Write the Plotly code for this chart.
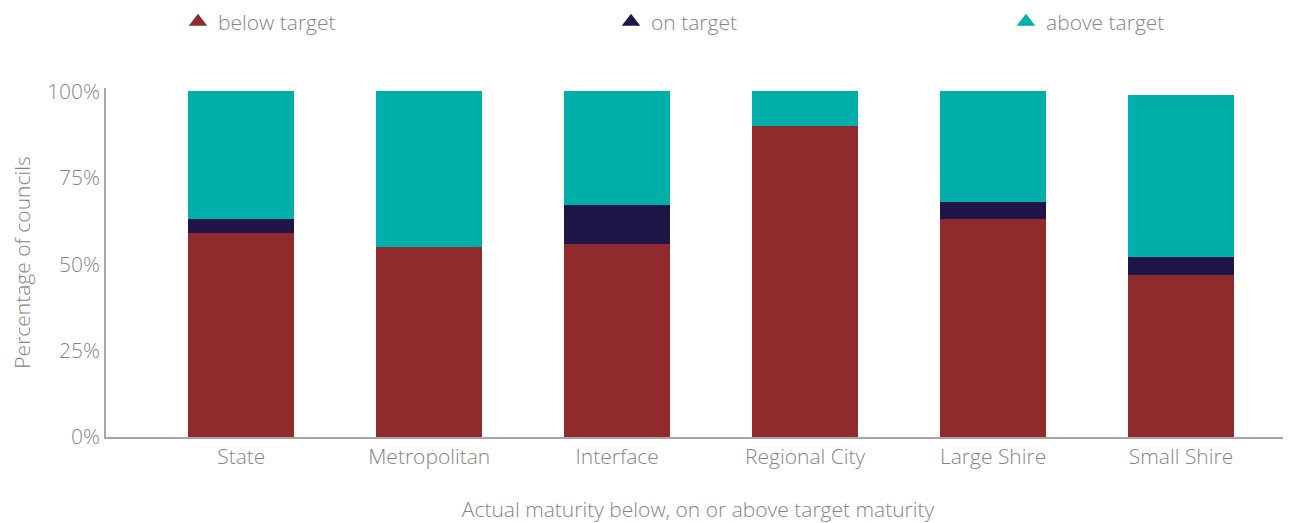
import plotly.graph_objects as go

categories = ["State", "Metropolitan", "Interface", "Regional City", "Large Shire", "Small Shire"]
below_target = [0.59, 0.55, 0.56, 0.90, 0.63, 0.47]
on_target = [0.04, 0.00, 0.11, 0.00, 0.05, 0.05]
above_target = [0.37, 0.45, 0.33, 0.10, 0.32, 0.47]

series_names = ["below target", "on target", "above target"]
series_values = [below_target, on_target, above_target]
colors = ["#8F2A2D", "#1F1546", "#00AFAA"]

FONT = "Open Sans"
GREY = "#858585"

fig = go.Figure()
for name, vals, col in zip(series_names, series_values, colors):
    fig.add_trace(go.Bar(x=categories, y=vals, name=name, marker_color=col,
                         marker_line_width=0, width=0.565, showlegend=False))

legend_ids = ["legend", "legend2", "legend3"]
legend_px = [170, 603, 998]
for name, col, lid in zip(series_names, colors, legend_ids):
    fig.add_trace(go.Scatter(x=[None], y=[None], mode="markers", name=name,
                             marker=dict(symbol="triangle-up", color=col, size=16),
                             showlegend=True, legend=lid))

L, T, B, R = 98, 80, 94, 9
W, H = 1291, 523
pw, ph = W - L - R, H - T - B

fnt = dict(family=FONT, size=21, color=GREY, weight=300)
layout_legends = {}
for lid, lx in zip(legend_ids, legend_px):
    layout_legends[lid] = dict(orientation="h", yanchor="middle", xanchor="left",
                               x=(lx - L) / pw, y=1 + (T - 14) / ph,
                               font=fnt, bgcolor="rgba(0,0,0,0)", itemwidth=30)

fig.update_layout(
    barmode="stack",
    width=W, height=H,
    margin=dict(l=L, r=R, t=T, b=B, autoexpand=False),
    paper_bgcolor="white", plot_bgcolor="white",
    font=fnt,
    xaxis=dict(range=[-0.72, 5.58], showline=True, linecolor="#a6a6a6", linewidth=1.5,
               ticks="", showgrid=False, tickfont=fnt, automargin=False,
               title=dict(text="Actual maturity below, on or above target maturity",
                          font=fnt, standoff=33)),
    yaxis=dict(range=[0, 1.01], showline=True, linecolor="#a6a6a6", linewidth=1.5,
               ticks="", showgrid=False, zeroline=False, tickformat=".0%",
               tickvals=[0, 0.25, 0.5, 0.75, 1.0], automargin=False,
               tickfont=fnt,
               title=dict(text="Percentage of councils", font=fnt, standoff=14)),
    **layout_legends,
)

fig.write_html("out.html")
